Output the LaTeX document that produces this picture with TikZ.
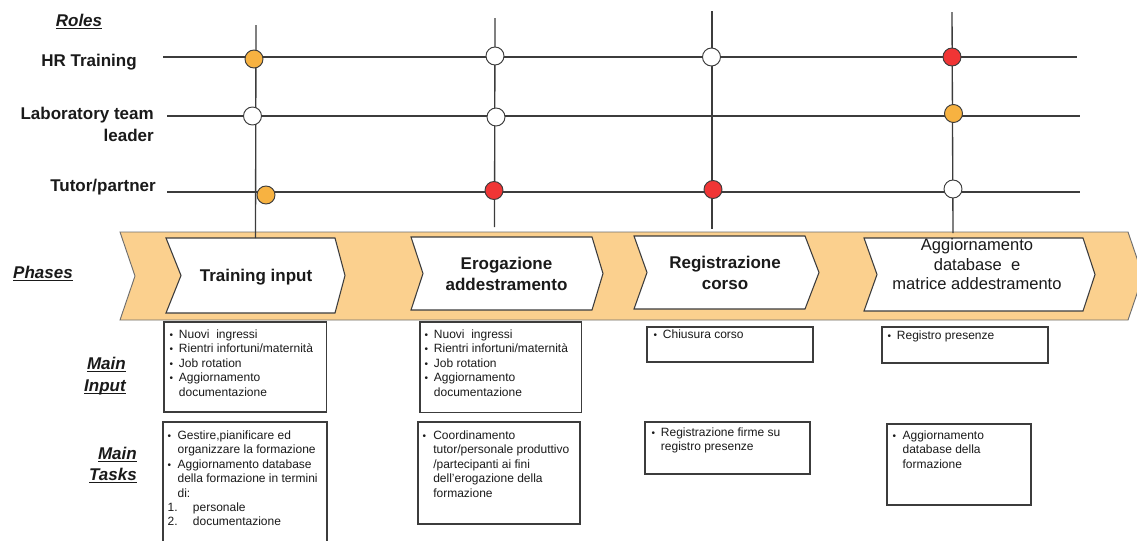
\documentclass[tikz,border=0pt]{standalone}
\usepackage{fontspec}
\setmainfont{Liberation Sans}
\usetikzlibrary{fit}

\definecolor{bandfill}{HTML}{FBD08E}
\definecolor{bandedge}{HTML}{6E6E6E}
\definecolor{linegray}{HTML}{3C3C3C}
\definecolor{markorange}{HTML}{F7B241}
\definecolor{markred}{HTML}{F03535}
\definecolor{boxtxt}{HTML}{1A1A1A}

% underlined section heading with a heavier rule
\newcommand\ulbl[1]{\sbox0{#1}\rlap{\rule[-2.4pt]{\wd0}{1.1pt}}\usebox0}
\newcommand\bul{{\fontsize{7.5}{7.5}\selectfont\textbullet}}

\tikzset{
  band/.style={fill=bandfill, draw=bandedge, line width=0.7pt},
  phasebox/.style={fill=white, draw=linegray, line width=0.8pt},
  phasetext/.style={font=\bfseries\fontsize{12.75}{15.75}\selectfont, align=center, inner sep=0pt, text=boxtxt},
  phaselight/.style={font=\fontsize{12.4}{14.6}\selectfont, align=center, inner sep=0pt, text=boxtxt},
  rolelbl/.style={font=\bfseries\fontsize{12.75}{15}\selectfont, inner sep=0pt, text=boxtxt},
  sectlbl/.style={font=\bfseries\itshape\fontsize{12.75}{15}\selectfont, inner sep=0pt, text=boxtxt},
  gridline/.style={draw=linegray, line width=1pt},
  rolemark/.style={circle, draw=linegray, line width=0.7pt, minimum size=13.5pt, inner sep=0pt},
  infobox/.style={draw=linegray, line width=1pt, fill=white, inner sep=0pt},
  boxtext/.style={anchor=north west, inner sep=0pt, font=\fontsize{9}{10.8}\selectfont, text=boxtxt},
}

\begin{document}
\begin{tikzpicture}[x=0.75pt,y=-0.75pt]
\useasboundingbox (0,0) rectangle (1137,540);
\clip (0,0) rectangle (1137,540);

% phase band and the four phase chevrons
\path[band] (120,232) -- (1128,232) -- (1143,276) -- (1128,320) -- (120,320) -- (135,276) -- cycle;
\path[phasebox] (166,238) -- (335,238) -- (345,275.5) -- (335,313) -- (166,313) -- (181,275.5) -- cycle;
\path[phasebox] (411,237) -- (592,237) -- (603,273.5) -- (592,310) -- (411,310) -- (423,273.5) -- cycle;
\path[phasebox] (634,236) -- (805,236) -- (819,272.5) -- (805,309) -- (634,309) -- (647,272.5) -- cycle;
\path[phasebox] (864,238) -- (1083,238) -- (1095,274.5) -- (1083,311) -- (864,311) -- (877,274.5) -- cycle;

\node[phasetext, anchor=base] (ph1) at (256,281) {Training input};
\node[phasetext] (ph2) at (506.5,273.5) {Erogazione\\addestramento};
\node[phasetext] (ph3) at (725,272.5) {Registrazione\\corso};
\node[phaselight] (ph4) at (977,264.5) {Aggiornamento\\database\ \ e\\matrice addestramento};

% role lines
\coordinate (hrL) at (163,57);   \coordinate (hrR) at (1077,57);
\coordinate (labL) at (167,116); \coordinate (labR) at (1080,116);
\coordinate (tutL) at (167,192); \coordinate (tutR) at (1080,192);
\draw[gridline] (hrL) -- (hrR);
\draw[gridline] (labL) -- (labR);
\draw[gridline] (tutL) -- (tutR);

% phase lines
\coordinate (v1t) at (256,25);  \coordinate (v1b) at (255.5,238);
\coordinate (v2t) at (495,18);  \coordinate (v2b) at (494.5,227);
\coordinate (v3t) at (712,11);  \coordinate (v3b) at (712,229);
\coordinate (v4t) at (952,12);  \coordinate (v4b) at (953,233);
\draw[gridline] (v1t) -- (v1b);
\draw[gridline] (v2t) -- (v2b);
\draw[gridline] (v3t) -- (v3b);
\draw[gridline] (v4t) -- (v4b);

% involvement markers
\node[rolemark, fill=markorange] (c11) at (254,59) {};
\node[rolemark, fill=white]      (c12) at (252.5,116) {};
\node[rolemark, fill=markorange] (c13) at (266,195) {};
\node[rolemark, fill=white]      (c21) at (495,56) {};
\node[rolemark, fill=white]      (c22) at (496,117) {};
\node[rolemark, fill=markred]    (c23) at (494,190.5) {};
\node[rolemark, fill=white]      (c31) at (711.5,57) {};
\node[rolemark, fill=markred]    (c33) at (713,189.5) {};
\node[rolemark, fill=markred]    (c41) at (952,57) {};
\node[rolemark, fill=markorange] (c42) at (953.5,113.5) {};
\node[rolemark, fill=white]      (c43) at (953,189) {};

% left-hand labels
\node[sectlbl, anchor=base] (roles) at (79,26) {\ulbl{Roles}};
\node[rolelbl, anchor=base east] (hr) at (137,66) {HR Training};
\node[rolelbl, anchor=base east] (lab1) at (154,119) {Laboratory team};
\node[rolelbl, anchor=base east] (lab2) at (154,141) {leader};
\node[rolelbl, anchor=base east] (tut) at (156,191) {Tutor/partner};
\node[sectlbl, anchor=base] (phases) at (43,278) {\ulbl{Phases}};
\node[sectlbl, anchor=base east] (mi1) at (126,369) {\ulbl{Main}};
\node[sectlbl, anchor=base east] (mi2) at (126,391) {\ulbl{Input}};
\node[sectlbl, anchor=base east] (mt1) at (137,459) {\ulbl{Main}};
\node[sectlbl, anchor=base east] (mt2) at (137,480) {\ulbl{Tasks}};

% input boxes
\node[infobox, fit={(164,322)(326.5,412)}] (in1) {};
\node[infobox, fit={(420,322)(581.5,412.5)}] (in2) {};
\node[infobox, fit={(647,327)(813,362)}] (in3) {};
\node[infobox, fit={(882,327)(1048,363)}] (in4) {};

\node[boxtext] (in1t) at ([shift={(6,6.9)}]in1.north west) {\begin{tabular}{@{}p{7pt}@{}l@{}}
\bul & Nuovi\ \ ingressi\\
\bul & Rientri infortuni/maternità\\
\bul & Job rotation\\
\bul & Aggiornamento\\
     & documentazione
\end{tabular}};
\node[boxtext] (in2t) at ([shift={(5,6.9)}]in2.north west) {\begin{tabular}{@{}p{7pt}@{}l@{}}
\bul & Nuovi\ \ ingressi\\
\bul & Rientri infortuni/maternità\\
\bul & Job rotation\\
\bul & Aggiornamento\\
     & documentazione
\end{tabular}};
\node[boxtext] (in3t) at ([shift={(7,1.9)}]in3.north west) {\begin{tabular}{@{}p{7pt}@{}l@{}}
\bul & Chiusura corso
\end{tabular}};
\node[boxtext] (in4t) at ([shift={(6,2.9)}]in4.north west) {\begin{tabular}{@{}p{7pt}@{}l@{}}
\bul & Registro presenze
\end{tabular}};

% task boxes
\node[infobox, fit={(163,422)(327,560)}] (ta1) {};
\node[infobox, fit={(418,422)(580,524)}] (ta2) {};
\node[infobox, fit={(645,422)(810,474)}] (ta3) {};
\node[infobox, fit={(887,424)(1031,505)}] (ta4) {};

\node[boxtext] (ta1t) at ([shift={(5,7.9)}]ta1.north west) {\begin{tabular}{@{}p{7.5pt}@{}l@{}}
\bul & Gestire,pianificare ed\\
     & organizzare la formazione\\
\bul & Aggiornamento database\\
     & della formazione in termini\\
     & di:\\
\multicolumn{2}{@{}l@{}}{\makebox[19pt][l]{1.}personale}\\
\multicolumn{2}{@{}l@{}}{\makebox[19pt][l]{2.}documentazione}
\end{tabular}};
\node[boxtext] (ta2t) at ([shift={(5,7.9)}]ta2.north west) {\begin{tabular}{@{}p{8pt}@{}l@{}}
\bul & Coordinamento\\
     & tutor/personale produttivo\\
     & /partecipanti ai fini\\
     & dell'erogazione della\\
     & formazione
\end{tabular}};
\node[boxtext] (ta3t) at ([shift={(7,4.9)}]ta3.north west) {\begin{tabular}{@{}p{7pt}@{}l@{}}
\bul & Registrazione firme su\\
     & registro presenze
\end{tabular}};
\node[boxtext] (ta4t) at ([shift={(6,5.9)}]ta4.north west) {\begin{tabular}{@{}p{7.5pt}@{}l@{}}
\bul & Aggiornamento\\
     & database della\\
     & formazione
\end{tabular}};
\end{tikzpicture}
\end{document}
